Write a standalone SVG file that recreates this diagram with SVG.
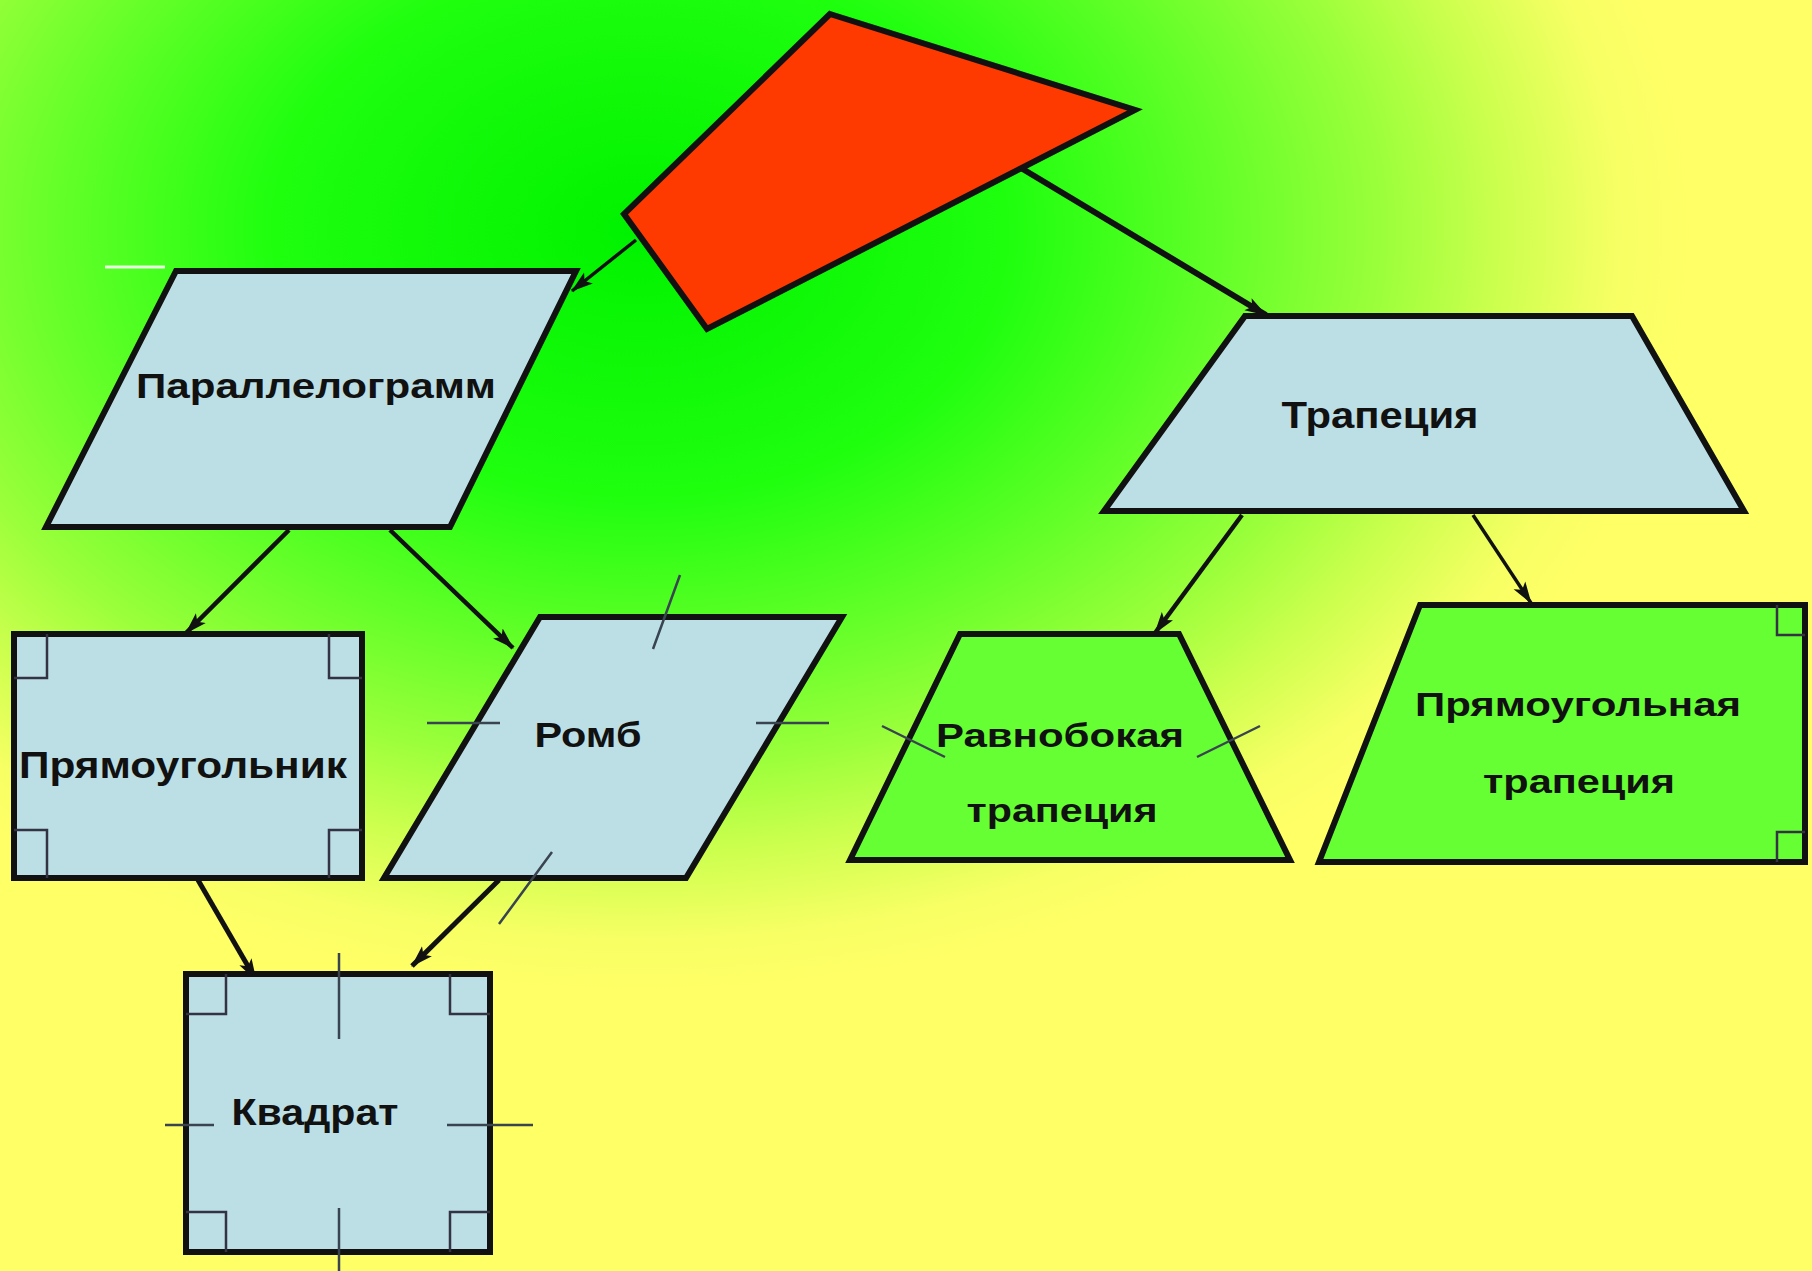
<svg xmlns="http://www.w3.org/2000/svg" width="1812" height="1271" viewBox="0 0 1812 1271">
<defs>
<radialGradient id="bg" gradientUnits="userSpaceOnUse" cx="0" cy="0" r="1" gradientTransform="translate(640,230) scale(1050,760)">
<stop offset="0" stop-color="#00f200"/>
<stop offset="0.35" stop-color="#1eff0e"/>
<stop offset="0.55" stop-color="#62ff28"/>
<stop offset="0.7" stop-color="#98ff3a"/>
<stop offset="0.82" stop-color="#ccff4e"/>
<stop offset="0.93" stop-color="#f6ff63"/>
<stop offset="1" stop-color="#ffff66"/>
</radialGradient>
<marker id="ah" markerUnits="userSpaceOnUse" markerWidth="22" markerHeight="16" viewBox="0 0 22 16" refX="21" refY="8" orient="auto">
<path d="M0,1 L22,8 L0,15 L5,8 z" fill="#111"/>
</marker>
</defs>
<style>
.shape{stroke:#111;stroke-width:6;stroke-linejoin:miter}
.blue{fill:#bcdfe6}
.green{fill:#66ff33}
.red{fill:#ff3a00}
.lbl{font-family:"Liberation Sans",Arial,sans-serif;font-weight:bold;fill:#111;text-anchor:middle}
.conn{stroke:#111;fill:none}
.mark{stroke:#334;stroke-width:2.5;fill:none}
.tick{stroke:#3a4450;stroke-width:2.5;fill:none}
</style>
<rect x="0" y="0" width="1812" height="1271" fill="url(#bg)"/>
<line x1="105" y1="267" x2="165" y2="267" stroke="#e8ffe0" stroke-width="3"/>

<g id="connectors">
<line class="conn" x1="636" y1="240" x2="572" y2="291" stroke-width="3.5" marker-end="url(#ah)"/>
<line class="conn" x1="1021" y1="168" x2="1266" y2="315" stroke-width="6" marker-end="url(#ah)"/>
<line class="conn" x1="289" y1="530" x2="186" y2="633" stroke-width="4.5" marker-end="url(#ah)"/>
<line class="conn" x1="390" y1="530" x2="513" y2="648" stroke-width="4.5" marker-end="url(#ah)"/>
<line class="conn" x1="1242" y1="515" x2="1155" y2="633" stroke-width="4.5" marker-end="url(#ah)"/>
<line class="conn" x1="1473" y1="515" x2="1531" y2="603" stroke-width="3.5" marker-end="url(#ah)"/>
<line class="conn" x1="198" y1="880" x2="256" y2="980" stroke-width="5" marker-end="url(#ah)"/>
<line class="conn" x1="499" y1="880" x2="412" y2="966" stroke-width="5" marker-end="url(#ah)"/>
</g>

<g id="quadrilateral">
<polygon class="shape red" points="830,14 1135,110 707,329 624,214"/>
</g>

<g id="parallelogram">
<polygon class="shape blue" points="176,271 576,271 450,527 46,527"/>
<text class="lbl" x="316" y="398" font-size="35" textLength="360" lengthAdjust="spacingAndGlyphs">Параллелограмм</text>
</g>

<g id="trapezoid">
<polygon class="shape blue" points="1245,316 1632,316 1744,511 1104,511"/>
<text class="lbl" x="1380" y="428" font-size="36" textLength="197" lengthAdjust="spacingAndGlyphs">Трапеция</text>
</g>

<g id="rectangle">
<rect class="shape blue" x="14" y="634" width="348" height="244"/>
<path class="mark" d="M14,678 H47 V634 M362,678 H329 V634 M14,830 H47 V878 M362,830 H329 V878"/>
<text class="lbl" x="183" y="778" font-size="36" textLength="328" lengthAdjust="spacingAndGlyphs">Прямоугольник</text>
</g>

<g id="rhombus">
<polygon class="shape blue" points="540,617 842,617 686,878 384,878"/>
<path class="tick" d="M680,575 L653,649 M427,723 H500 M756,723 H829 M552,852 L499,924"/>
<text class="lbl" x="588" y="747" font-size="35" textLength="107" lengthAdjust="spacingAndGlyphs">Ромб</text>
</g>

<g id="square">
<rect class="shape blue" x="186" y="974" width="304" height="278"/>
<path class="mark" d="M186,1014 H226 V974 M490,1014 H450 V974 M186,1212 H226 V1252 M490,1212 H450 V1252"/>
<path class="tick" d="M339,953 V1039 M339,1208 V1271 M165,1125 H214 M447,1125 H533"/>
<text class="lbl" x="315" y="1125" font-size="37" textLength="167" lengthAdjust="spacingAndGlyphs">Квадрат</text>
</g>

<g id="isosceles-trapezoid">
<polygon class="shape green" points="960,634 1179,634 1290,860 850,860"/>
<path class="tick" d="M882,726 L945,757 M1260,726 L1197,757" stroke="#3a5a20"/>
<text class="lbl" x="1060" y="747" font-size="34" textLength="248" lengthAdjust="spacingAndGlyphs">Равнобокая</text>
<text class="lbl" x="1062" y="822" font-size="34" textLength="191" lengthAdjust="spacingAndGlyphs">трапеция</text>
</g>

<g id="right-trapezoid">
<polygon class="shape green" points="1420,605 1805,605 1805,862 1319,862"/>
<path class="mark" d="M1805,635 H1777 V605 M1805,832 H1777 V862"/>
<text class="lbl" x="1578" y="716" font-size="34" textLength="326" lengthAdjust="spacingAndGlyphs">Прямоугольная</text>
<text class="lbl" x="1579" y="793" font-size="34" textLength="192" lengthAdjust="spacingAndGlyphs">трапеция</text>
</g>
</svg>
